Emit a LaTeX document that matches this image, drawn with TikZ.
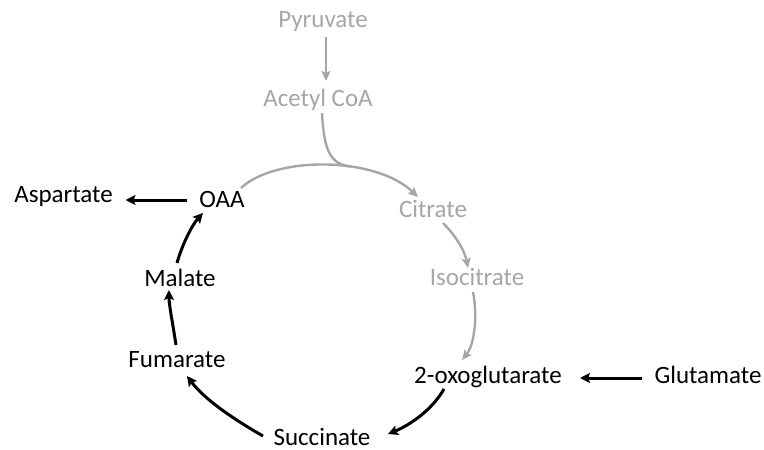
\documentclass[tikz,border=0pt]{standalone}
\usepackage{fontspec}
\setmainfont{Carlito}
\usetikzlibrary{arrows.meta,calc}
\definecolor{lightgray}{HTML}{A6A6A6}
\tikzset{
  lbl/.style={anchor=base,inner sep=0pt,font=\fontsize{25}{29}\selectfont},
  graylbl/.style={lbl,text=lightgray},
  blk/.style={draw=black,line width=3pt,-{Stealth[length=10pt,width=10pt,inset=2pt]}},
  gry/.style={draw=lightgray,line width=2.4pt,-{Stealth[length=10pt,width=9pt,inset=2pt]}},
  gryline/.style={draw=lightgray,line width=2.4pt}
}
\begin{document}
\begin{tikzpicture}[x=1pt,y=-1pt]
\useasboundingbox (0,0) rectangle (764,450);
\node[graylbl] (pyr) at (323,27) {Pyruvate};
\node[graylbl] (ace) at (318,106) {Acetyl CoA};
\node[graylbl] (cit) at (433,217) {Citrate};
\node[graylbl] (iso) at (477,285) {Isocitrate};
\node[lbl] (oxo) at (488,383) {2-oxoglutarate};
\node[lbl] (glu) at (708,383) {Glutamate};
\node[lbl] (suc) at (322,445) {Succinate};
\node[lbl] (fum) at (177,367) {Fumarate};
\node[lbl] (mal) at (180,286) {Malate};
\node[lbl] (oaa) at (222,207) {OAA};
\node[lbl] (asp) at (63.5,202) {Aspartate};
\coordinate (J) at (350,166.5);
% grey part
\draw[gry] ($(pyr.base)+(3,10)$) -- ($(ace.base)+(8,-25)$);
\draw[gry] ($(oaa.base)+(19,-19)$) .. controls (275,156) and (375,156) .. ($(cit.base)+(-15,-20)$);
\draw[gryline] ($(ace.base)+(4,7)$) .. controls (324,150) and (330,164) .. (J);
\draw[gry] ($(cit.base)+(10,6)$) .. controls (457,237) and (465,252) .. ($(iso.base)+(-9,-17)$);
\draw[gry] ($(iso.base)+(-4,7)$) .. controls (478,318) and (474,345) .. ($(oxo.base)+(-26,-23)$);
% black part
\draw[blk] ($(glu.base)+(-66,-5)$) -- ($(oxo.base)+(92,-5)$);
\draw[blk] ($(oxo.base)+(-44,6)$) .. controls (432,410) and (410,425) .. ($(suc.base)+(66,-11)$);
\draw[blk] ($(suc.base)+(-59,-9)$) .. controls (235,420) and (205,400) .. ($(fum.base)+(10,9)$);
\draw[blk] ($(fum.base)+(-1,-22)$) .. controls (173,325) and (169,305) .. ($(mal.base)+(-11,4)$);
\draw[blk] ($(mal.base)+(-3,-23)$) .. controls (182,245) and (192,225) .. ($(oaa.base)+(-19,6)$);
\draw[blk] ($(oaa.base)+(-35,-7)$) -- ($(asp.base)+(62,-2)$);
\end{tikzpicture}
\end{document}
